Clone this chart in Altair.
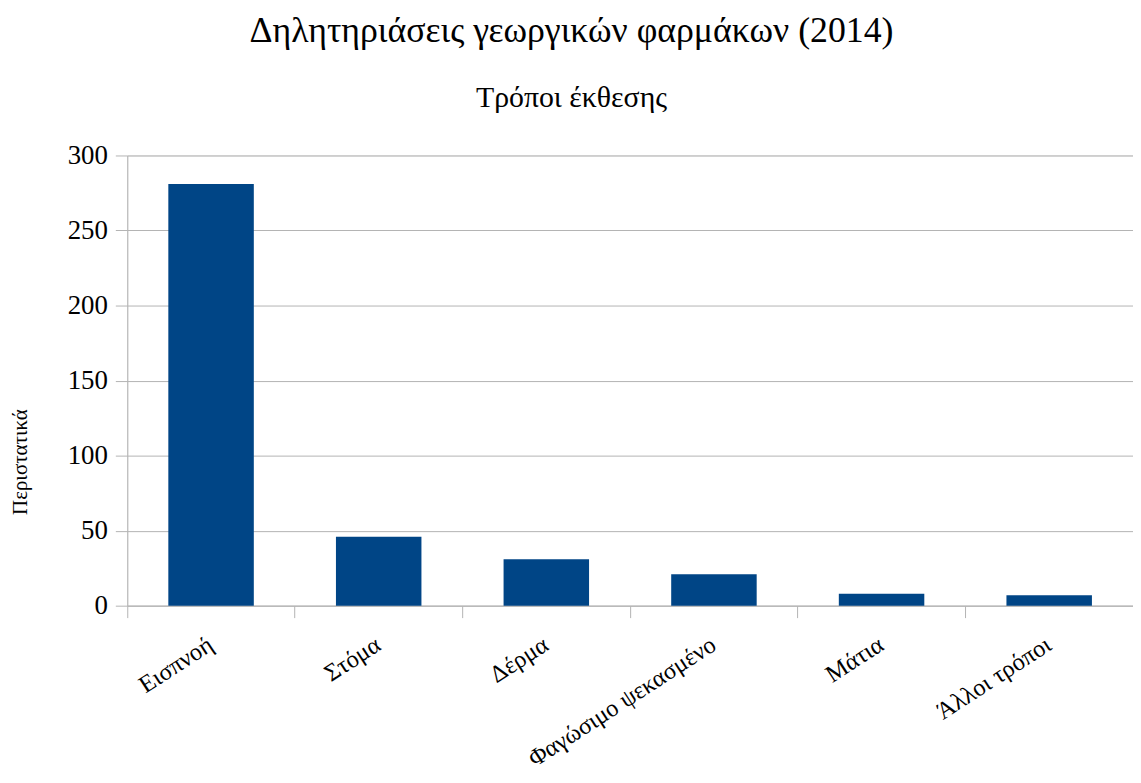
import altair as alt
import pandas as pd

categories = ["Εισπνοή", "Στόμα", "Δέρμα", "Φαγώσιμο ψεκασμένο", "Μάτια", "Άλλοι τρόποι"]
values = [281, 46, 31, 21, 8, 7]
y_ticks = [0, 50, 100, 150, 200, 250, 300]

df = pd.DataFrame({"cat": categories, "val": values})
FONT = "Liberation Serif"

chart = alt.Chart(df).mark_bar(
    color="#004586", width=alt.RelativeBandSize(0.51)
).encode(
    x=alt.X("cat:N", sort=categories, title=None,
            scale=alt.Scale(paddingInner=0, paddingOuter=0),
            axis=alt.Axis(labelAngle=-33, labelFont=FONT, labelFontSize=24.5,
                          labelColor="#000000", bandPosition=0, labelLimit=0,
                          domain=True, domainColor="#b3b3b3", ticks=True,
                          tickColor="#b3b3b3", tickSize=12, grid=False,
                          labelPadding=25, labelAlign="right", labelBaseline="middle")),
    y=alt.Y("val:Q", title="Περιστατικά",
            scale=alt.Scale(domain=[0, 300], nice=False),
            axis=alt.Axis(values=y_ticks, labelFont=FONT, labelFontSize=27,
                          labelColor="#000000", tickColor="#b3b3b3", tickSize=12,
                          domainColor="#b3b3b3", gridColor="#b3b3b3",
                          labelPadding=8, titleFont=FONT, titleFontSize=21,
                          titleFontWeight="normal", titleColor="#000000",
                          titleX=-107, titleY=308, titleBaseline="middle",
                          titleAlign="center", titleAngle=270)),
).properties(
    width=1012, height=453,
    padding={"left": 2, "top": 3, "right": 0, "bottom": 5},
    title=alt.TitleParams(
        text="Δηλητηριάσεις γεωργικών φαρμάκων (2014)",
        subtitle="Τρόποι έκθεσης",
        font=FONT, fontSize=36, fontWeight="normal", color="#000000",
        subtitleFont=FONT, subtitleFontSize=30, subtitleColor="#000000",
        subtitlePadding=33, offset=28, anchor="middle", frame="bounds",
    ),
).configure_view(stroke=None).configure(background="white")

chart.save("out.html", embed_options={"renderer": "svg", "actions": False})
